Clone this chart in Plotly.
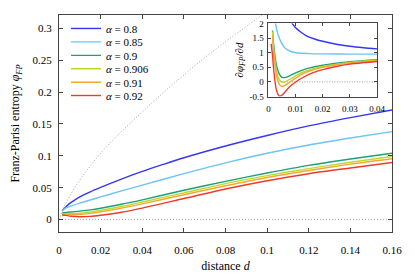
import plotly.graph_objects as go

# ---------------- data ----------------
alphas = ["0.8", "0.85", "0.9", "0.906", "0.91", "0.92"]
colors = ["#3535f5", "#6cc4f0", "#1f9e78", "#b8dc2c", "#f2a832", "#ee3a2a"]

# main panel: Franz-Parisi entropy vs distance
d_08 = [0.0015, 0.003, 0.005, 0.0075, 0.01, 0.015, 0.02, 0.03, 0.04, 0.05, 0.06, 0.08, 0.10, 0.12, 0.14, 0.16]
phi_08 = [0.0140, 0.019, 0.025, 0.0305, 0.0355, 0.0435, 0.0505, 0.0635, 0.0755, 0.0865, 0.097, 0.1155, 0.132, 0.147, 0.160, 0.172]

d_common = [0.0015, 0.003, 0.006, 0.01, 0.015, 0.02, 0.03, 0.04, 0.06, 0.08, 0.10, 0.12, 0.14, 0.16]
phi_085 = [0.0135, 0.0175, 0.0215, 0.0258, 0.0307, 0.0355, 0.0450, 0.054, 0.072, 0.089, 0.104, 0.117, 0.128, 0.138]
phi_09 = [0.0104, 0.0110, 0.0118, 0.0132, 0.0152, 0.0178, 0.0240, 0.031, 0.046, 0.060, 0.073, 0.085, 0.095, 0.104]
phi_0906 = [0.0092, 0.0094, 0.0095, 0.0100, 0.0118, 0.0145, 0.0205, 0.0275, 0.042, 0.0565, 0.069, 0.080, 0.090, 0.099]
phi_091 = [0.0085, 0.0085, 0.0080, 0.0082, 0.0098, 0.0122, 0.0180, 0.0247, 0.039, 0.053, 0.066, 0.077, 0.087, 0.0955]
phi_092 = [0.0072, 0.0066, 0.0052, 0.0045, 0.0050, 0.0068, 0.0115, 0.018, 0.033, 0.048, 0.061, 0.072, 0.081, 0.0896]

# dotted reference curve
d_ref = [0.0, 0.002, 0.005, 0.01, 0.015, 0.02, 0.026, 0.03, 0.04, 0.05, 0.06, 0.07, 0.08, 0.09, 0.10]
phi_ref = [0.0, 0.017, 0.036, 0.062, 0.084, 0.104, 0.125, 0.138, 0.169, 0.199, 0.227, 0.254, 0.279, 0.303, 0.327]

# inset: derivative d(phi)/dd
di_08 = [0.008, 0.00875, 0.01, 0.012, 0.014, 0.017, 0.02, 0.025, 0.03, 0.035, 0.04]
dp_08 = [2.15, 2.0, 1.85, 1.7, 1.58, 1.47, 1.39, 1.29, 1.22, 1.17, 1.13]
di_085 = [0.0022, 0.0026, 0.003, 0.004, 0.005, 0.006, 0.008, 0.01, 0.015, 0.02, 0.03, 0.04]
dp_085 = [2.4, 2.0, 1.8, 1.5, 1.3, 1.17, 1.05, 1.0, 0.97, 0.96, 0.95, 0.95]
di_c = [0.0015, 0.002, 0.003, 0.004, 0.005, 0.006, 0.008, 0.01, 0.013, 0.016, 0.02, 0.025, 0.03, 0.035, 0.04]
dp_09 = [1.76, 1.2, 0.55, 0.27, 0.16, 0.15, 0.22, 0.31, 0.42, 0.50, 0.57, 0.64, 0.69, 0.73, 0.76]
dp_0906 = [1.72, 1.05, 0.38, 0.08, -0.01, 0.0, 0.10, 0.21, 0.35, 0.44, 0.53, 0.61, 0.67, 0.71, 0.74]
dp_091 = [1.6, 0.9, 0.22, -0.08, -0.15, -0.12, 0.0, 0.13, 0.29, 0.40, 0.50, 0.59, 0.65, 0.69, 0.72]
di_092 = [0.001, 0.0015, 0.002, 0.003, 0.004, 0.005, 0.006, 0.008, 0.01, 0.013, 0.016, 0.02, 0.025, 0.03, 0.035, 0.04]
dp_092 = [1.3, 0.9, 0.35, -0.3, -0.48, -0.45, -0.35, -0.15, 0.0, 0.17, 0.30, 0.42, 0.53, 0.61, 0.66, 0.70]

zero_x = [0.0, 0.16]
zero_y = [0.0, 0.0]
zero_ix = [0.004, 0.04]

main_yticks = [0, 0.05, 0.1, 0.15, 0.2, 0.25, 0.3]
main_ytext = ["0", "0.05", "0.1", "0.15", "0.2", "0.25", "0.3"]
main_xticks = [0, 0.02, 0.04, 0.06, 0.08, 0.1, 0.12, 0.14, 0.16]
main_xtext = ["0", "0.02", "0.04", "0.06", "0.08", "0.1", "0.12", "0.14", "0.16"]
ins_yticks = [-0.5, 0, 0.5, 1, 1.5, 2]
ins_ytext = ["-0.5", "0", "0.5", "1", "1.5", "2"]
ins_xticks = [0, 0.01, 0.02, 0.03, 0.04]
ins_xtext = ["0", "0.01", "0.02", "0.03", "0.04"]

# ---------------- figure ----------------
FONT = "Liberation Serif, Times New Roman, serif"
fig = go.Figure()

main_x = [d_08, d_common, d_common, d_common, d_common, d_common]
main_y = [phi_08, phi_085, phi_09, phi_0906, phi_091, phi_092]
ins_x = [di_08, di_085, di_c, di_c, di_c, di_092]
ins_y = [dp_08, dp_085, dp_09, dp_0906, dp_091, dp_092]

fig.add_trace(go.Scatter(x=d_ref, y=phi_ref, mode="lines", showlegend=False,
                         line=dict(color="#8a8a8a", width=0.8, dash="1px,2px", shape="spline")))
fig.add_trace(go.Scatter(x=zero_x, y=zero_y, mode="lines", showlegend=False,
                         line=dict(color="#8a8a8a", width=0.8, dash="1px,2px")))

legend_names = ["legend", "legend2", "legend3", "legend4", "legend5", "legend6"]
for a, c, xs, ys, lg in zip(alphas, colors, main_x, main_y, legend_names):
    fig.add_trace(go.Scatter(x=xs, y=ys, mode="lines", name="<i>α</i> = " + a, legend=lg,
                             line=dict(color=c, width=1.4, shape="spline", smoothing=0.8)))

fig.add_trace(go.Scatter(x=zero_ix, y=zero_y, mode="lines", showlegend=False,
                         xaxis="x2", yaxis="y2",
                         line=dict(color="#b0b0b0", width=1.2, dash="1px,1.5px")))
for c, xs, ys in zip(colors, ins_x, ins_y):
    fig.add_trace(go.Scatter(x=xs, y=ys, mode="lines", showlegend=False,
                             xaxis="x2", yaxis="y2",
                             line=dict(color=c, width=1.4, shape="spline", smoothing=0.8)))

axcol = "#444444"
legend_y = [0.938, 0.876, 0.814, 0.752, 0.690, 0.629]
legend_layout = {}
for lg, yy in zip(legend_names, legend_y):
    legend_layout[lg] = dict(x=0.021, y=yy, xanchor="left", yanchor="middle",
                             bgcolor="rgba(0,0,0,0)", borderwidth=0,
                             font=dict(family=FONT, size=11, color="black"))

fig.update_layout(
    width=407, height=269,
    margin=dict(l=51.3, r=23.3, t=7, b=45.3, autoexpand=False),
    paper_bgcolor="white", plot_bgcolor="white",
    font=dict(family=FONT, size=11, color="black"),
    showlegend=True,
    **legend_layout,
    xaxis=dict(range=[0, 0.16], tickvals=main_xticks, ticktext=main_xtext,
               tickfont=dict(family=FONT, size=11), ticklabelstandoff=8,
               ticks="inside", ticklen=4, tickcolor=axcol, showline=True, linecolor=axcol,
               linewidth=1, mirror="ticks", showgrid=False, zeroline=False, automargin=False,
               title=dict(text="distance <i>d</i>", standoff=6, font=dict(family=FONT, size=12))),
    yaxis=dict(range=[-0.0195, 0.321], tickvals=main_yticks, ticktext=main_ytext,
               tickfont=dict(family=FONT, size=11), ticklabelstandoff=4,
               ticks="inside", ticklen=4, tickcolor=axcol, showline=True, linecolor=axcol,
               linewidth=1, mirror="ticks", showgrid=False, zeroline=False, automargin=False,
               title=dict(text="Franz-Parisi entropy <i>φ</i><sub><i>FP</i></sub>",
                          standoff=10, font=dict(family=FONT, size=12))),
    xaxis2=dict(domain=[0.629, 0.955], anchor="y2", range=[0, 0.04],
                tickvals=ins_xticks, ticktext=ins_xtext, tickfont=dict(family=FONT, size=9),
                ticklabelstandoff=4,
                ticks="inside", ticklen=3, tickcolor=axcol, showline=True, linecolor=axcol,
                linewidth=1, mirror="ticks", showgrid=False, zeroline=False, automargin=False),
    yaxis2=dict(domain=[0.624, 0.961], anchor="x2", range=[-0.5, 2],
                tickvals=ins_yticks, ticktext=ins_ytext, tickfont=dict(family=FONT, size=9),
                ticklabelstandoff=2,
                ticks="inside", ticklen=3, tickcolor=axcol, showline=True, linecolor=axcol,
                linewidth=1, mirror="ticks", showgrid=False, zeroline=False, automargin=False,
                title=dict(text="∂<i>φ</i><sub><i>FP</i></sub>/∂<i>d</i>", standoff=3,
                           font=dict(family=FONT, size=11))),
)

fig.write_html("out.html")
